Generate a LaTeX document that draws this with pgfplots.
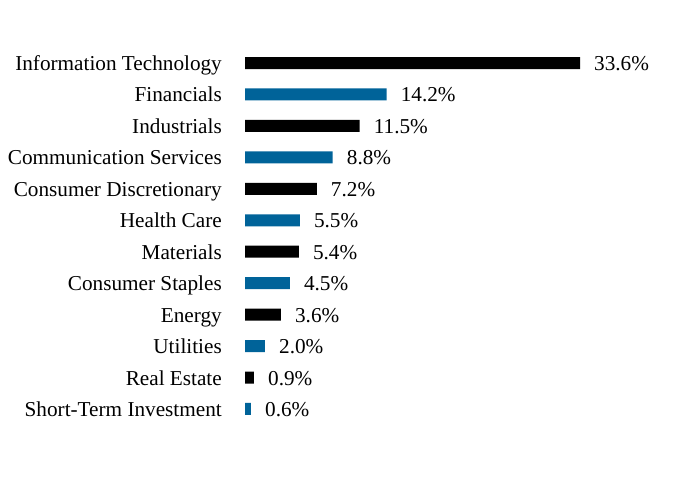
\documentclass[border=0pt]{standalone}
\usepackage{fontspec}
\setmainfont{Liberation Serif}
\usepackage{pgfplots}
\pgfplotsset{compat=1.18}
\definecolor{barblue}{RGB}{0,99,153}
\begin{document}
\begin{tikzpicture}[x=1bp,y=1bp]
\useasboundingbox (0,0) rectangle (684,504);
\begin{axis}[
  at={(245bp,79.3bp)}, anchor=south west,
  scale only axis,
  width=398.8bp, height=377.4bp,
  xmin=0, xmax=40,
  ymin=-0.5, ymax=11.5,
  axis line style={draw=none},
  xtick=\empty,
  major tick length=0pt,
  xbar, bar width=12bp, bar shift=0pt,
  ytick={0,...,11},
  yticklabels={Short-Term Investment, Real Estate, Utilities, Energy, Consumer Staples, Materials, Health Care, Consumer Discretionary, Communication Services, Industrials, Financials, Information Technology},
  every tick label/.append style={font=\fontsize{21.3}{25}\selectfont},
  yticklabel style={anchor=base east, inner sep=0pt, xshift=-23bp, yshift=-7.5bp},
  /pgf/number format/assume math mode=true,
  point meta=x,
  nodes near coords={\pgfmathprintnumber[fixed,fixed zerofill,precision=1]{\pgfplotspointmeta}\%},
  nodes near coords style={font=\fontsize{21.3}{25}\selectfont, anchor=base west, inner sep=0pt, xshift=14bp, yshift=-7.5bp},
  clip=false,
]
\addplot[draw=none, fill=black] coordinates {(33.6,11) (11.5,9) (7.2,7) (5.4,5) (3.6,3) (0.9,1)};
\addplot[draw=none, fill=barblue] coordinates {(14.2,10) (8.8,8) (5.5,6) (4.5,4) (2.0,2) (0.6,0)};
\end{axis}
\end{tikzpicture}
\end{document}
